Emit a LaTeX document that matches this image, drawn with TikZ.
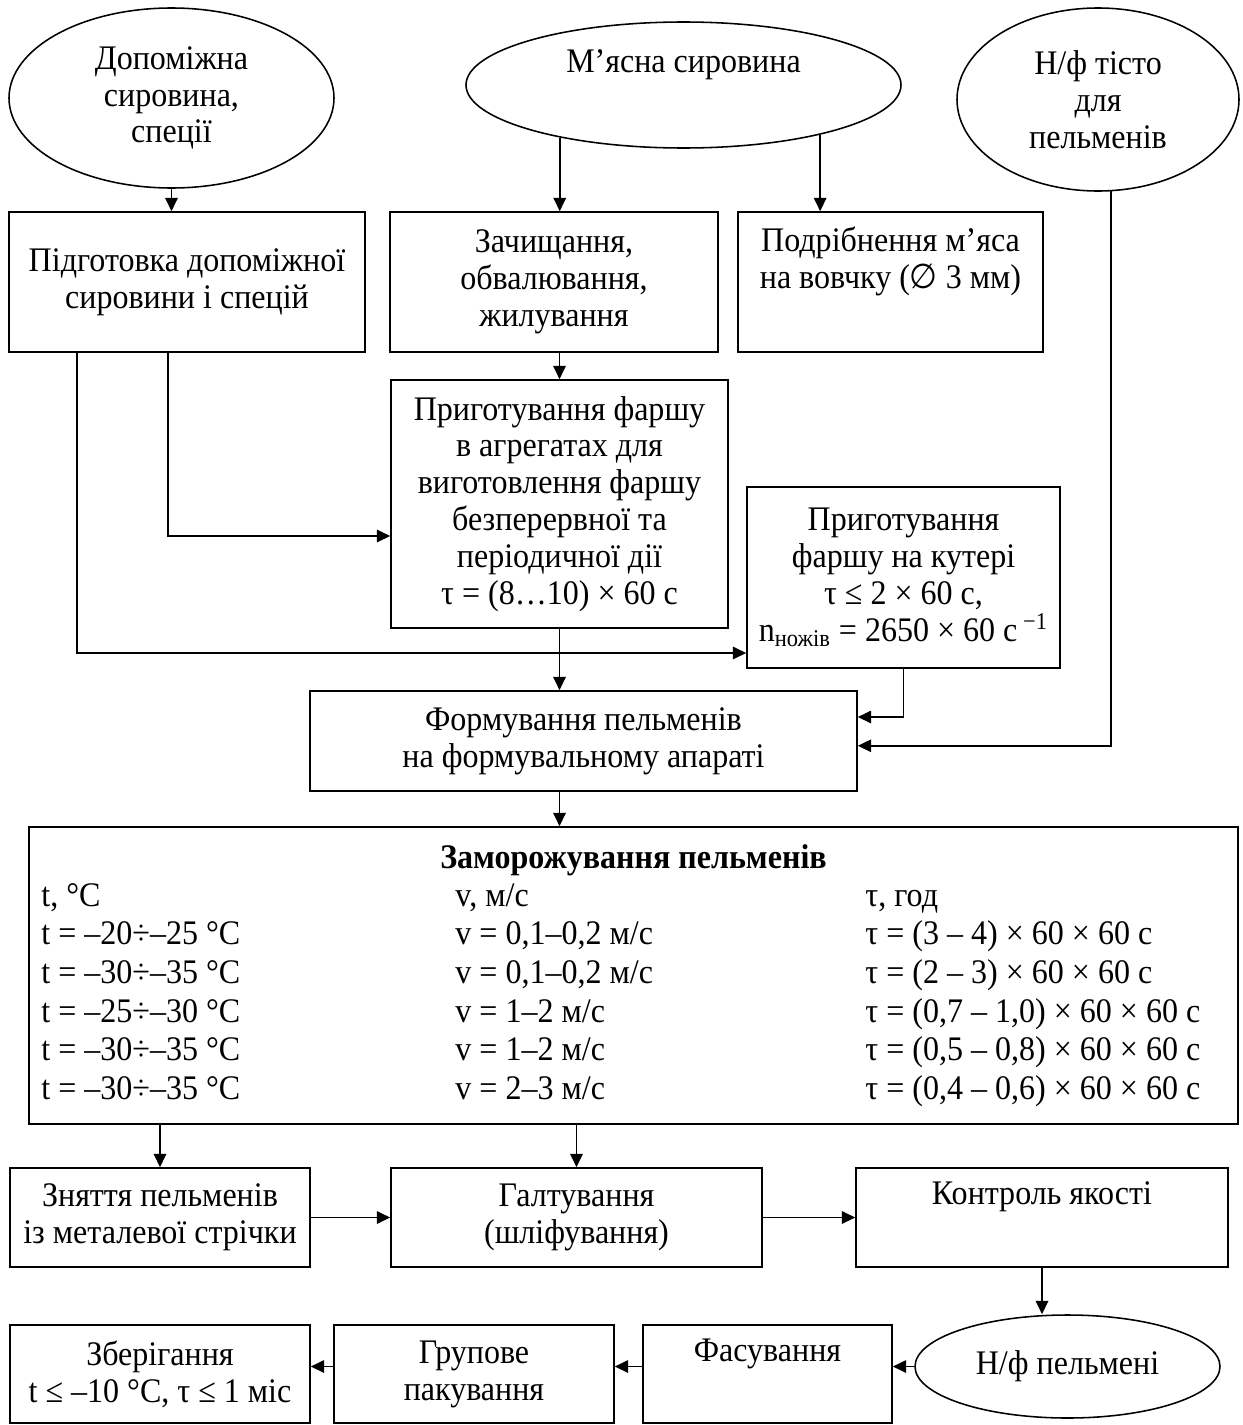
\documentclass[tikz,border=0pt]{standalone}
\usepackage{fontspec}
\setmainfont{Liberation Serif}[FakeStretch=0.93]
\newfontfamily\symfont{DejaVu Sans}[FakeStretch=0.93]
\usetikzlibrary{shapes.geometric,arrows.meta}

\tikzset{
	wh/.style 2 args={minimum width=#1*0.45pt,minimum height=#2*0.45pt},	%size in px of the scan
	stage/.style={draw,rectangle,inner sep=0pt,align=center,line width=0.7pt},
	source/.style={draw,ellipse,inner sep=0pt,align=center,line width=0.7pt},
	arr/.style={-{Triangle[length=6pt,width=5.6pt]},line width=0.7pt},
	cell/.style={anchor=west,inner sep=0pt,text height=1.6ex,text depth=0.3ex},
}

\begin{document}
\begin{tikzpicture}[x=0.45pt,y=-0.45pt,font=\fontsize{15.5}{16.6}\selectfont]
	\useasboundingbox (0,0) rectangle (1242,1425);
	\pgfmathsetmacro{\rowsep}{38.6}		%row spacing in the freezing table

	%raw materials
	\node[source,wh={325}{180}] (dop) at (171.5,98) {Допоміжна\\сировина,\\спеції};
	\node[source,wh={435}{126}] (meat) at (683.5,85) {М’ясна сировина\\\strut};
	\node[source,wh={282}{183}] (dough) at (1098,99.5) {Н/ф тісто\\для\\пельменів};

	%preparation
	\node[stage,wh={356}{140}] (prep) at (187,282) {Підготовка допоміжної\\сировини і спецій};
	\node[stage,wh={328}{140}] (clean) at (554,282) {Зачищання,\\обвалювання,\\жилування};
	\node[stage,wh={305}{140}] (mash) at (890.5,282) {Подрібнення м’яса\\на вовчку ({\symfont ∅} 3 мм)\\\strut};
	\node[stage,wh={337}{248}] (mince) at (559.5,504) {Приготування фаршу\\в агрегатах для\\виготовлення фаршу\\безперервної та\\періодичної дії\\τ = (8…10) × 60 с};
	\node[stage,wh={313}{181}] (kut) at (903.5,577.5) {Приготування\\фаршу на кутері\\τ ≤ 2 × 60 с,\\n\textsubscript{ножів} = 2650 × 60 с\,\textsuperscript{−1}};
	\node[stage,wh={547}{100}] (form) at (583.5,741) {Формування пельменів\\на формувальному апараті};

	%freezing
	\node[stage,wh={1209}{297}] (freeze) at (633.5,975.5) {};
	\node[inner sep=0pt,font=\fontsize{15.5}{16.6}\selectfont\bfseries] (frtitle) at (633.5,860) {Заморожування пельменів};
	\foreach \txt [count=\i] in {{t, °C},{t = –20÷–25 °C},{t = –30÷–35 °C},{t = –25÷–30 °C},{t = –30÷–35 °C},{t = –30÷–35 °C}}
		\node[cell] (t\i) at (41,861+\rowsep*\i) {\txt};
	\foreach \txt [count=\i] in {{v, м/с},{v = 0,1–0,2 м/с},{v = 0,1–0,2 м/с},{v = 1–2 м/с},{v = 1–2 м/с},{v = 2–3 м/с}}
		\node[cell] (v\i) at (455,861+\rowsep*\i) {\txt};
	\foreach \txt [count=\i] in {{τ, год},{τ = (3 – 4) × 60 × 60 с},{τ = (2 – 3) × 60 × 60 с},{τ = (0,7 – 1,0) × 60 × 60 с},{τ = (0,5 – 0,8) × 60 × 60 с},{τ = (0,4 – 0,6) × 60 × 60 с}}
		\node[cell] (tau\i) at (865,861+\rowsep*\i) {\txt};

	%finishing
	\node[stage,wh={300}{99}] (lift) at (160,1217.5) {Зняття пельменів\\із металевої стрічки};
	\node[stage,wh={371}{99}] (tumble) at (576.5,1217.5) {Галтування\\(шліфування)};
	\node[stage,wh={372}{99}] (qc) at (1042,1217.5) {Контроль якості\\\strut};
	\node[source,wh={305}{103}] (pelm) at (1067.5,1366.5) {Н/ф пельмені};
	\node[stage,wh={249}{98}] (pack) at (767.5,1374) {Фасування\\\strut};
	\node[stage,wh={280}{98}] (group) at (474,1374) {Групове\\пакування};
	\node[stage,wh={300}{98}] (store) at (160,1374) {Зберігання\\t ≤ –10 °C, τ ≤ 1 міс};

	%flows
	\draw[arr] (dop.south) -- (dop.south |- prep.north);
	\draw[arr] (meat.-157) -- (meat.-157 |- clean.north);
	\draw[arr] (meat.-20) -- (meat.-20 |- mash.north);
	\draw[arr] (mince.north |- clean.south) -- (mince.north);
	\draw[arr] (168,0 |- prep.south) |- (mince.west |- 0,536);
	\draw[arr] (77,0 |- prep.south) |- (kut.west |- 0,653);
	\draw[arr] (mince.south) -- (mince.south |- form.north);
	\draw[arr] (kut.south) |- (form.5);
	\draw[arr] (dough.-82) |- (form.-1);
	\draw[arr] (form.south -| mince) -- (freeze.north -| mince);
	\draw[arr] (freeze.south -| lift) -- (lift.north);
	\draw[arr] (freeze.south -| tumble) -- (tumble.north);
	\draw[arr] (lift.east) -- (tumble.west);
	\draw[arr] (tumble.east) -- (qc.west);
	\draw[arr] (qc.south) -- (qc.south |- pelm.north);
	\draw[arr] (pelm.west) -- (pelm.west -| pack.east);
	\draw[arr] (pack.west |- pelm.west) -- (group.east |- pelm.west);
	\draw[arr] (group.west |- pelm.west) -- (store.east |- pelm.west);
\end{tikzpicture}
\end{document}
